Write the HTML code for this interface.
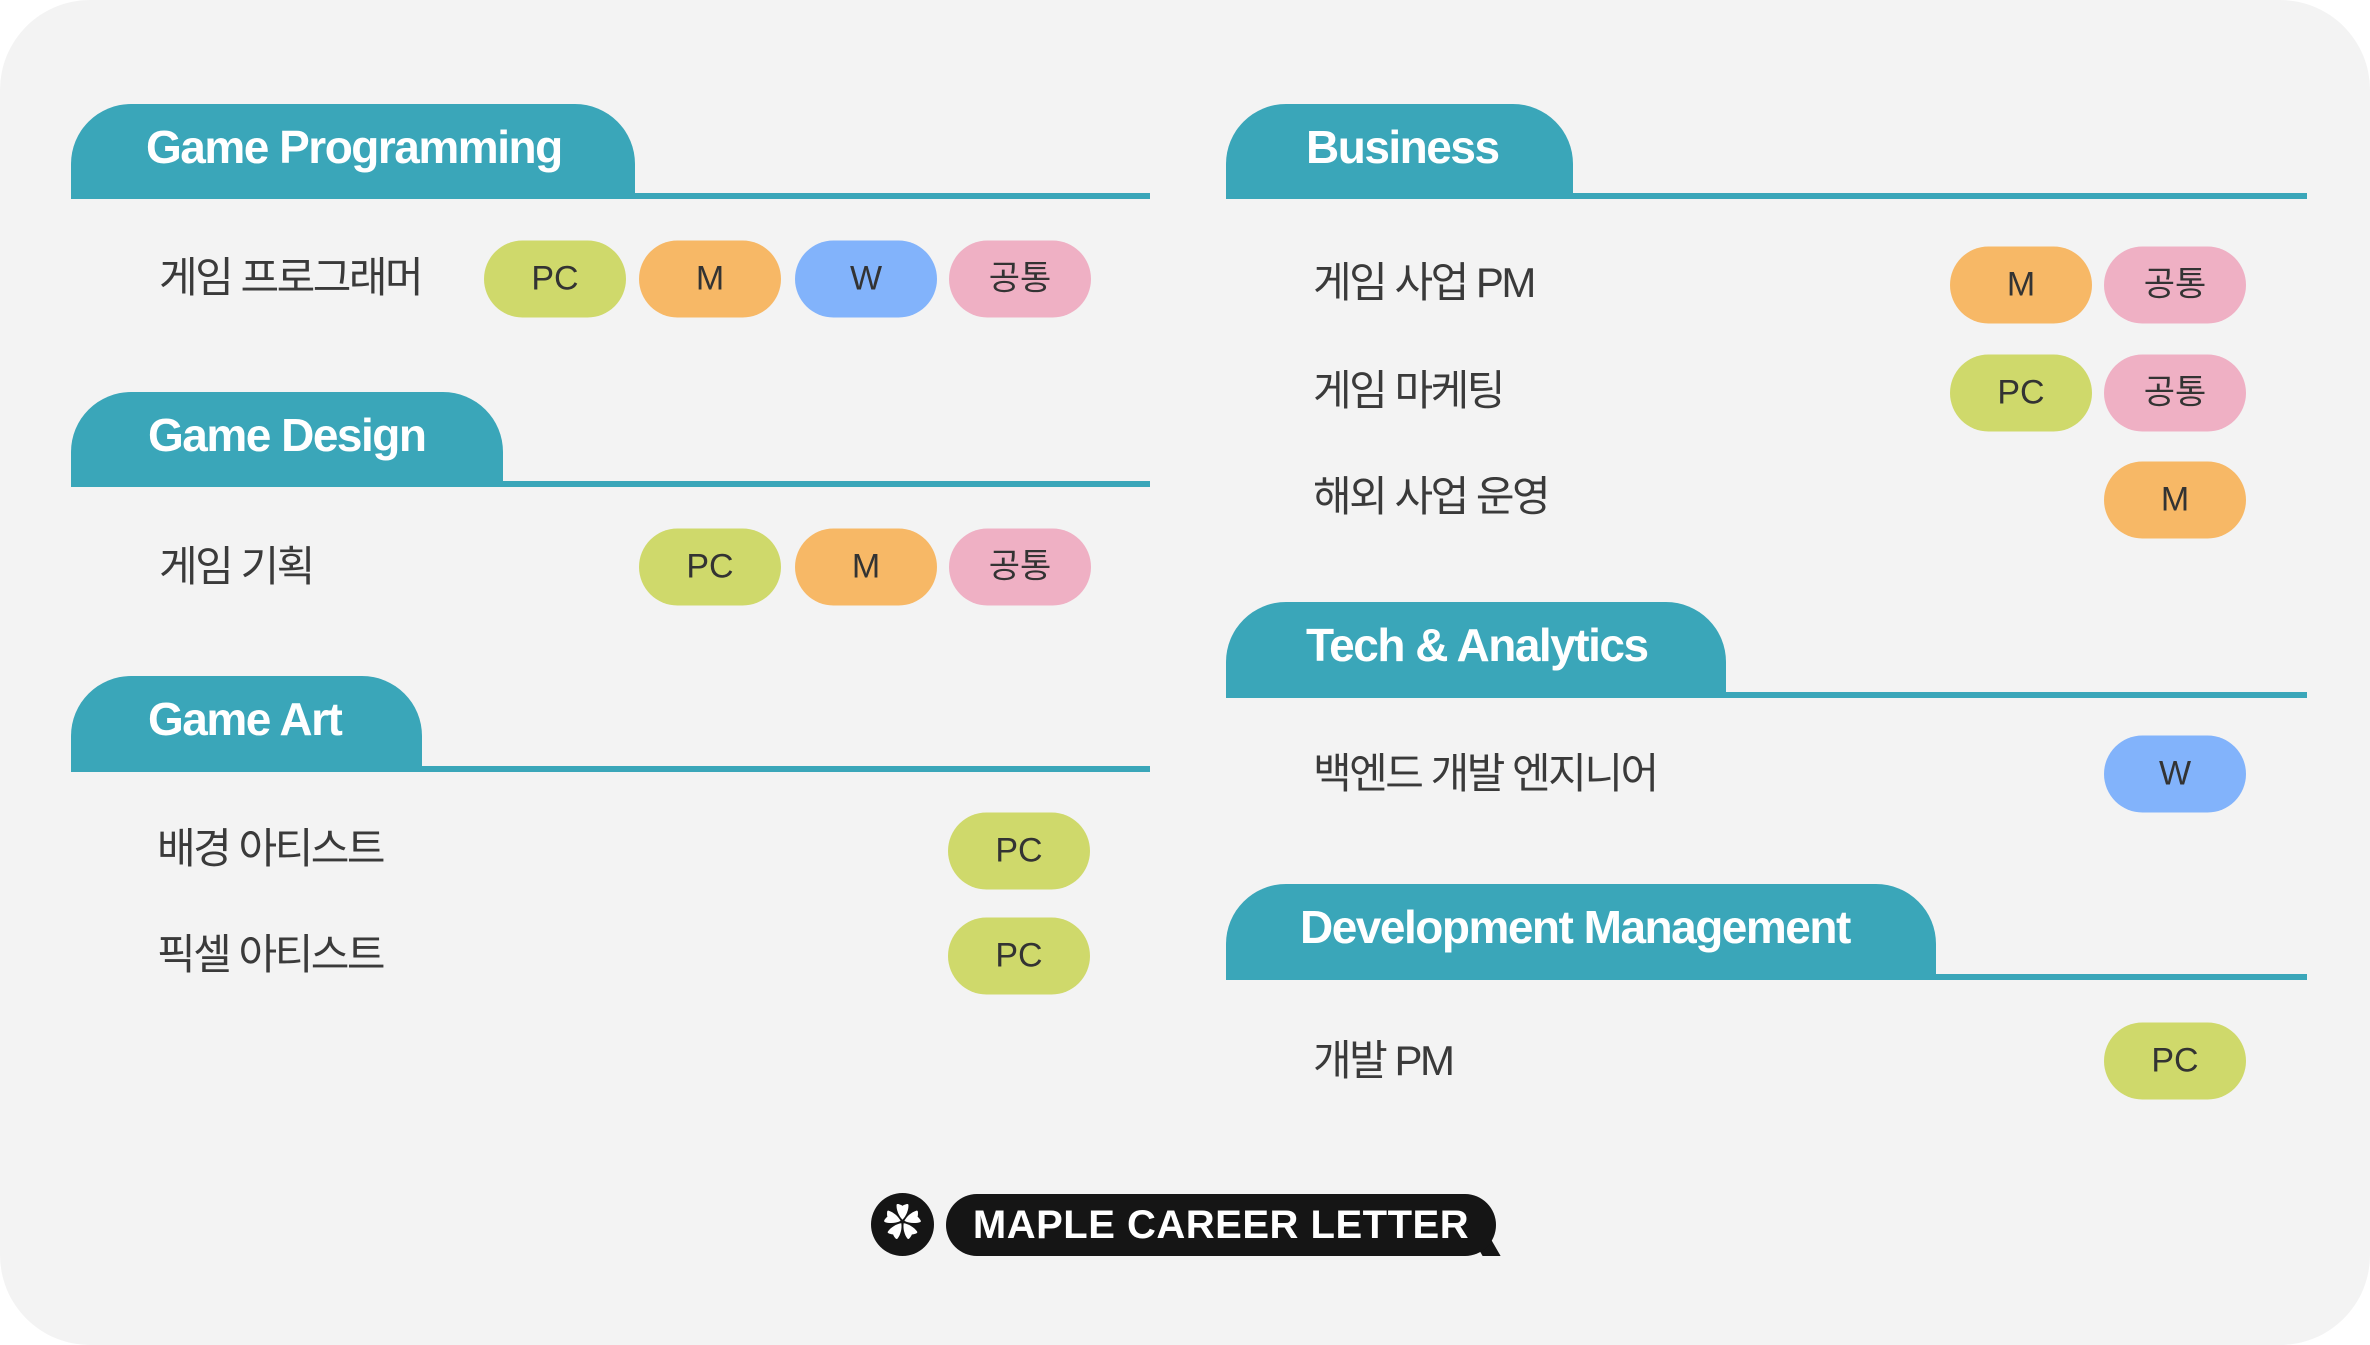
<!DOCTYPE html>
<html><head><meta charset="utf-8"><style>
*{margin:0;padding:0;box-sizing:border-box}
body{width:2370px;height:1345px;background:#fff;position:relative;overflow:hidden;font-family:"Liberation Sans","Noto Sans CJK KR",sans-serif}
.card{position:absolute;left:0;top:0;width:2370px;height:1345px;background:#f3f3f3;border-radius:90px}
.tab{position:absolute;background:#3aa6b9;border-radius:60px 60px 0 0;color:#fff;font-weight:bold;font-size:46px;letter-spacing:-1.5px;line-height:1}
.tab span{position:absolute;top:20px}
.line{position:absolute;height:6px;background:#3aa6b9}
.t{position:absolute;font-size:42px;color:#3a3a3a;letter-spacing:-2.5px;line-height:1;transform:translateY(-50%)}
.p{position:absolute;width:142px;height:77px;border-radius:39px;font-size:34px;color:#333;text-align:center;line-height:77px;transform:translateY(-50%)}
.pc{background:#cfd96b}.m{background:#f7b866}.w{background:#82b3fb}.c{background:#efb0c4}
</style></head><body>
<div class="card"></div>

<div class="tab" style="left:71px;top:104px;width:564px;height:95px"><span style="left:75px">Game Programming</span></div>
<div class="line" style="left:71px;top:193px;width:1079px"></div>
<div class="t" style="left:159px;top:278px">게임 프로그래머</div>
<div class="p pc" style="left:484px;top:279px">PC</div>
<div class="p m" style="left:639px;top:279px">M</div>
<div class="p w" style="left:795px;top:279px">W</div>
<div class="p c" style="left:949px;top:279px">공통</div>

<div class="tab" style="left:71px;top:392px;width:432px;height:95px"><span style="left:77px">Game Design</span></div>
<div class="line" style="left:71px;top:481px;width:1079px"></div>
<div class="t" style="left:159px;top:567px">게임 기획</div>
<div class="p pc" style="left:639px;top:567px">PC</div>
<div class="p m" style="left:795px;top:567px">M</div>
<div class="p c" style="left:949px;top:567px">공통</div>

<div class="tab" style="left:71px;top:676px;width:351px;height:96px"><span style="left:77px">Game Art</span></div>
<div class="line" style="left:71px;top:766px;width:1079px"></div>
<div class="t" style="left:157px;top:849px">배경 아티스트</div>
<div class="p pc" style="left:948px;top:851px">PC</div>
<div class="t" style="left:157px;top:955px">픽셀 아티스트</div>
<div class="p pc" style="left:948px;top:956px">PC</div>

<div class="tab" style="left:1226px;top:104px;width:347px;height:95px"><span style="left:80px">Business</span></div>
<div class="line" style="left:1226px;top:193px;width:1081px"></div>
<div class="t" style="left:1313px;top:283px">게임 사업 PM</div>
<div class="p m" style="left:1950px;top:285px">M</div>
<div class="p c" style="left:2104px;top:285px">공통</div>
<div class="t" style="left:1313px;top:391px">게임 마케팅</div>
<div class="p pc" style="left:1950px;top:393px">PC</div>
<div class="p c" style="left:2104px;top:393px">공통</div>
<div class="t" style="left:1313px;top:497px">해외 사업 운영</div>
<div class="p m" style="left:2104px;top:500px">M</div>

<div class="tab" style="left:1226px;top:602px;width:500px;height:96px"><span style="left:80px">Tech &amp; Analytics</span></div>
<div class="line" style="left:1226px;top:692px;width:1081px"></div>
<div class="t" style="left:1313px;top:774px">백엔드 개발 엔지니어</div>
<div class="p w" style="left:2104px;top:774px">W</div>

<div class="tab" style="left:1226px;top:884px;width:710px;height:96px"><span style="left:74px">Development Management</span></div>
<div class="line" style="left:1226px;top:974px;width:1081px"></div>
<div class="t" style="left:1313px;top:1061px">개발 PM</div>
<div class="p pc" style="left:2104px;top:1061px">PC</div>

<div style="position:absolute;left:871px;top:1193px;width:63px;height:63px;border-radius:50%;background:#151515;color:#fff;font-size:38px;text-align:center;line-height:63px">✿</div>
<div style="position:absolute;left:1478px;top:1240px;width:18px;height:16px;background:#151515;transform:skewX(30deg)"></div>
<div style="position:absolute;left:946px;top:1194px;width:550px;height:62px;border-radius:31px;background:#151515;color:#fff;font-weight:bold;font-size:40px;line-height:62px;text-align:center;letter-spacing:0.5px">MAPLE CAREER LETTER</div>
</body></html>
